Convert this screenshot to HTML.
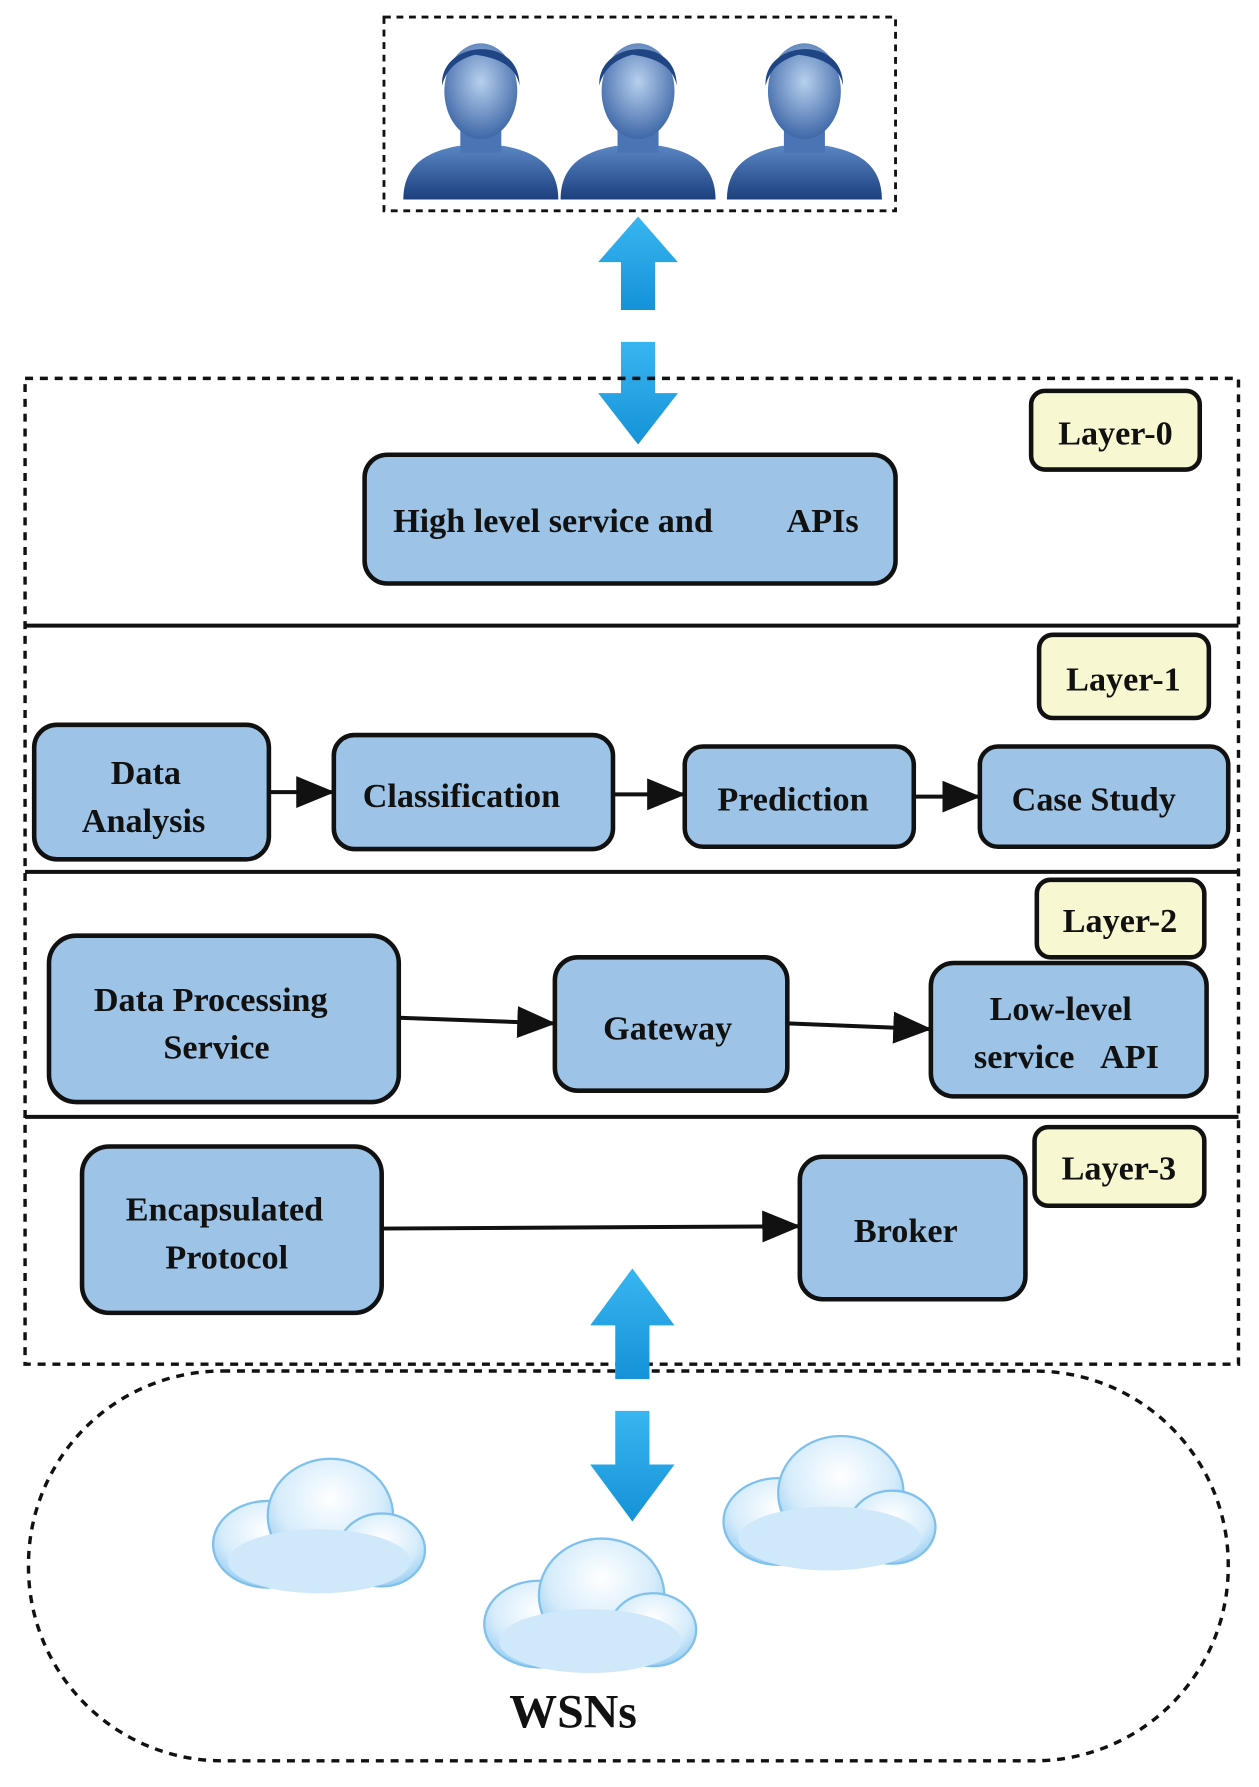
<!DOCTYPE html>
<html><head><meta charset="utf-8"><style>
html,body{margin:0;padding:0;background:#fff;}
svg{display:block;}
text{font-family:"Liberation Serif",serif;font-weight:bold;fill:#111;}
</style></head><body>
<svg width="1259" height="1787" viewBox="0 0 1105 1568" preserveAspectRatio="none" xmlns="http://www.w3.org/2000/svg">
<defs>
<linearGradient id="pg" x1="0" y1="0" x2="0" y2="1"><stop offset="0" stop-color="#5a86c4"/><stop offset="1" stop-color="#1d3f7e"/></linearGradient>
<radialGradient id="fg" cx="0.5" cy="0.4" r="0.6"><stop offset="0" stop-color="#b8d0ee"/><stop offset="1" stop-color="#3f68a8"/></radialGradient>
<linearGradient id="ag" x1="0" y1="0" x2="0" y2="1"><stop offset="0" stop-color="#38b6f0"/><stop offset="1" stop-color="#1592d8"/></linearGradient>
<radialGradient id="cg" cx="0.5" cy="0.35" r="0.7"><stop offset="0" stop-color="#ffffff"/><stop offset="0.6" stop-color="#d6ecfb"/><stop offset="1" stop-color="#8cc8f0"/></radialGradient>
<marker id="ah" markerWidth="34" markerHeight="28" refX="33" refY="14" orient="auto" markerUnits="userSpaceOnUse" viewBox="0 0 34 28"><path d="M0,0 L34,14 L0,28 z" fill="#111"/></marker>
<g id="person">
<path d="M-68,75 C-68,40 -40,32 -20,28 L20,28 C40,32 68,40 68,75 Z" fill="url(#pg)"/>
<rect x="-18" y="10" width="36" height="24" fill="#4a74b4"/>
<ellipse cx="0" cy="-20" rx="32" ry="42" fill="url(#fg)"/>
<path d="M-34,-25 C-36,-65 34,-70 34,-25 C30,-45 10,-50 -5,-52 C-20,-48 -30,-40 -34,-25 Z" fill="#1f4585"/>
</g>
<g id="cloud">
<g fill="url(#cg)" stroke="#7fc0ec" stroke-width="2">
<ellipse cx="-45" cy="15" rx="48" ry="38"/>
<ellipse cx="10" cy="-10" rx="55" ry="50"/>
<ellipse cx="55" cy="20" rx="38" ry="32"/>
</g>
<ellipse cx="0" cy="30" rx="80" ry="28" fill="#cfe8fa"/>
</g>
</defs>

<rect x="337" y="15" width="449" height="170" fill="none" stroke="#111" stroke-width="2.5" stroke-dasharray="6,5"/>
<use href="#person" x="422" y="100"/>
<use href="#person" x="560" y="100"/>
<use href="#person" x="706" y="100"/>

<path d="M560,190 L595,230 L575,230 L575,272 L545,272 L545,230 L525,230 Z" fill="url(#ag)"/>
<path d="M545,300 L575,300 L575,345 L595,345 L560,390 L525,345 L545,345 Z" fill="url(#ag)"/>

<rect x="22" y="332" width="1065" height="865" fill="none" stroke="#111" stroke-width="3" stroke-dasharray="7,6"/>
<g stroke="#111" stroke-width="3.5">
<line x1="22" y1="549" x2="1087" y2="549"/>
<line x1="22" y1="765" x2="1087" y2="765"/>
<line x1="22" y1="980" x2="1087" y2="980"/>
</g>

<g stroke="#111" stroke-width="4">
<rect x="905" y="343" width="148" height="69" rx="12" fill="#f7f7d2"/>
<rect x="912" y="557" width="149" height="73" rx="12" fill="#f7f7d2"/>
<rect x="910" y="772" width="147" height="68" rx="12" fill="#f7f7d2"/>
<rect x="908" y="989" width="149" height="69" rx="12" fill="#f7f7d2"/>
<g fill="#9dc3e6">
<rect x="320" y="399" width="466" height="113" rx="20"/>
<rect x="30" y="636" width="206" height="118" rx="20"/>
<rect x="293" y="645" width="245" height="100" rx="18"/>
<rect x="601" y="655" width="201" height="88" rx="16"/>
<rect x="860" y="655" width="218" height="88" rx="16"/>
<rect x="43" y="821" width="307" height="146" rx="24"/>
<rect x="487" y="840" width="204" height="117" rx="20"/>
<rect x="817" y="845" width="242" height="117" rx="20"/>
<rect x="72" y="1006" width="263" height="146" rx="24"/>
<rect x="702" y="1015" width="198" height="125" rx="20"/>
</g>
</g>

<g stroke="#111" stroke-width="3.5" marker-end="url(#ah)">
<line x1="236" y1="695" x2="293" y2="695"/>
<line x1="538" y1="697" x2="601" y2="697"/>
<line x1="802" y1="699" x2="860" y2="699"/>
<line x1="350" y1="893" x2="487" y2="898"/>
<line x1="691" y1="898" x2="817" y2="903"/>
<line x1="335" y1="1078" x2="702" y2="1076"/>
</g>

<g font-size="30" text-anchor="middle">
<text x="979" y="390">Layer-0</text>
<text x="986" y="606">Layer-1</text>
<text x="983" y="818">Layer-2</text>
<text x="982" y="1035">Layer-3</text>
<text x="345" y="467" text-anchor="start">High level service and</text>
<text x="722" y="467">APIs</text>
<text x="128" y="688">Data</text>
<text x="126" y="730">Analysis</text>
<text x="405" y="708">Classification</text>
<text x="696" y="711">Prediction</text>
<text x="960" y="711">Case Study</text>
<text x="185" y="887">Data Processing</text>
<text x="190" y="929">Service</text>
<text x="586" y="912">Gateway</text>
<text x="931" y="895">Low-level</text>
<text x="936" y="937">service &#160;&#160;API</text>
<text x="197" y="1071">Encapsulated</text>
<text x="199" y="1113">Protocol</text>
<text x="795" y="1090">Broker</text>
</g>

<rect x="25" y="1203" width="1053" height="342" rx="170" fill="none" stroke="#111" stroke-width="3" stroke-dasharray="7,6"/>
<path d="M555,1113 L592,1163 L570,1163 L570,1210 L540,1210 L540,1163 L518,1163 Z" fill="url(#ag)"/>
<path d="M540,1238 L570,1238 L570,1285 L592,1285 L555,1335 L518,1285 L540,1285 Z" fill="url(#ag)"/>
<use href="#cloud" x="280" y="1340"/>
<use href="#cloud" x="518" y="1410"/>
<use href="#cloud" x="728" y="1320"/>
<text x="503" y="1516" font-size="42" text-anchor="middle">WSNs</text>
</svg>
</body></html>
